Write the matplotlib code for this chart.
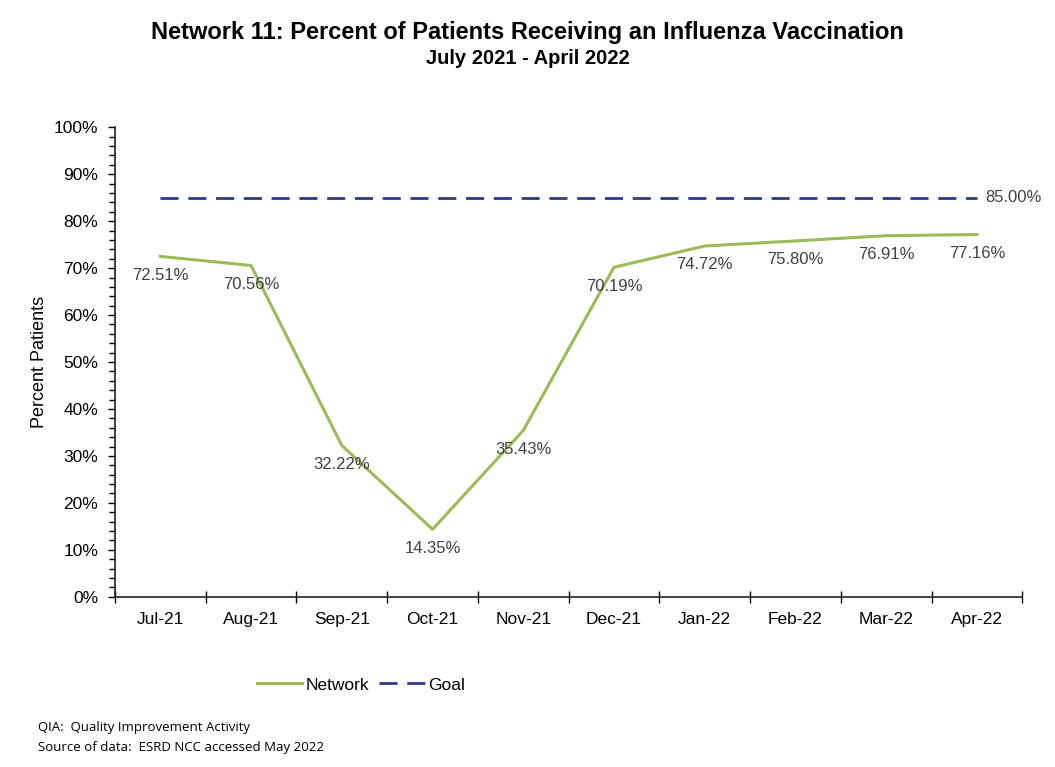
import matplotlib
matplotlib.use("Agg")
import matplotlib.pyplot as plt
import numpy as np
from matplotlib.ticker import MultipleLocator, FixedLocator, PercentFormatter

months = ["Jul-21", "Aug-21", "Sep-21", "Oct-21", "Nov-21",
          "Dec-21", "Jan-22", "Feb-22", "Mar-22", "Apr-22"]
network = [72.51, 70.56, 32.22, 14.35, 35.43, 70.19, 74.72, 75.80, 76.91, 77.16]
goal = [85.00] * len(months)

green = "#9bbb59"
navy = "#2b3990"
grey = "#404040"


def main():
    plt.rcParams['font.family'] = ['Liberation Sans', 'DejaVu Sans']
    fig = plt.figure(figsize=(10.55, 7.67), dpi=100)
    ax = fig.add_axes([0.109, 0.222, 0.860, 0.612])

    x = np.arange(len(months))
    ax.plot(x, network, color=green, lw=2.2, label="Network")
    ax.plot(x, goal, color=navy, lw=2, ls=(0, (6.5, 3.5)), label="Goal")

    for xi, v in zip(x, network):
        ax.annotate(f"{v:.2f}%", (xi, v), xytext=(0, -13.5), textcoords="offset points",
                    ha="center", va="center", fontsize=12, color=grey)
    ax.annotate(f"{goal[-1]:.2f}%", (x[-1], goal[-1]), xytext=(6, 0),
                textcoords="offset points", ha="left", va="center",
                fontsize=12, color=grey, annotation_clip=False)

    ax.set_xlim(-0.5, len(months) - 0.5)
    ax.set_ylim(0, 100)
    ax.set_xticks(x)
    ax.set_xticklabels(months, fontsize=12.5)
    ax.tick_params(axis="x", which="major", length=0, pad=11)
    ax.xaxis.set_minor_locator(FixedLocator(np.arange(-0.5, len(months), 1)))
    ax.tick_params(axis="x", which="minor", length=8, direction="inout", width=1)

    ax.yaxis.set_major_locator(MultipleLocator(10))
    ax.yaxis.set_minor_locator(MultipleLocator(2))
    ax.yaxis.set_major_formatter(PercentFormatter(decimals=0))
    ax.tick_params(axis="y", which="major", length=5, width=1, labelsize=12.5, pad=7)
    ax.tick_params(axis="y", which="minor", length=4, width=1)

    for s in ["top", "right"]:
        ax.spines[s].set_visible(False)
    for s in ["left", "bottom"]:
        ax.spines[s].set_linewidth(1.2)
        ax.spines[s].set_color("#222222")

    ax.set_ylabel("Percent Patients", fontsize=13, labelpad=4)

    fig.text(0.5, 0.957, "Network 11: Percent of Patients Receiving an Influenza Vaccination",
             ha="center", va="center", fontsize=17, fontweight="bold")
    fig.text(0.5, 0.924, "July 2021 - April 2022", ha="center", va="center",
             fontsize=14.5, fontweight="bold")

    fig.legend(loc="center", bbox_to_anchor=(0.342, 0.107), ncol=2, frameon=False,
               fontsize=12.5, handlelength=2.6, columnspacing=0.6, handletextpad=0.2)

    fig.text(0.036, 0.052, "QIA:  Quality Improvement Activity", fontsize=9.5,
             family=["Open Sans", "DejaVu Sans"], va="center")
    fig.text(0.036, 0.026, "Source of data:  ESRD NCC accessed May 2022", fontsize=9.5,
             family=["Open Sans", "DejaVu Sans"], va="center")

    fig.savefig("out.png", dpi=100)


if __name__ == "__main__":
    main()
